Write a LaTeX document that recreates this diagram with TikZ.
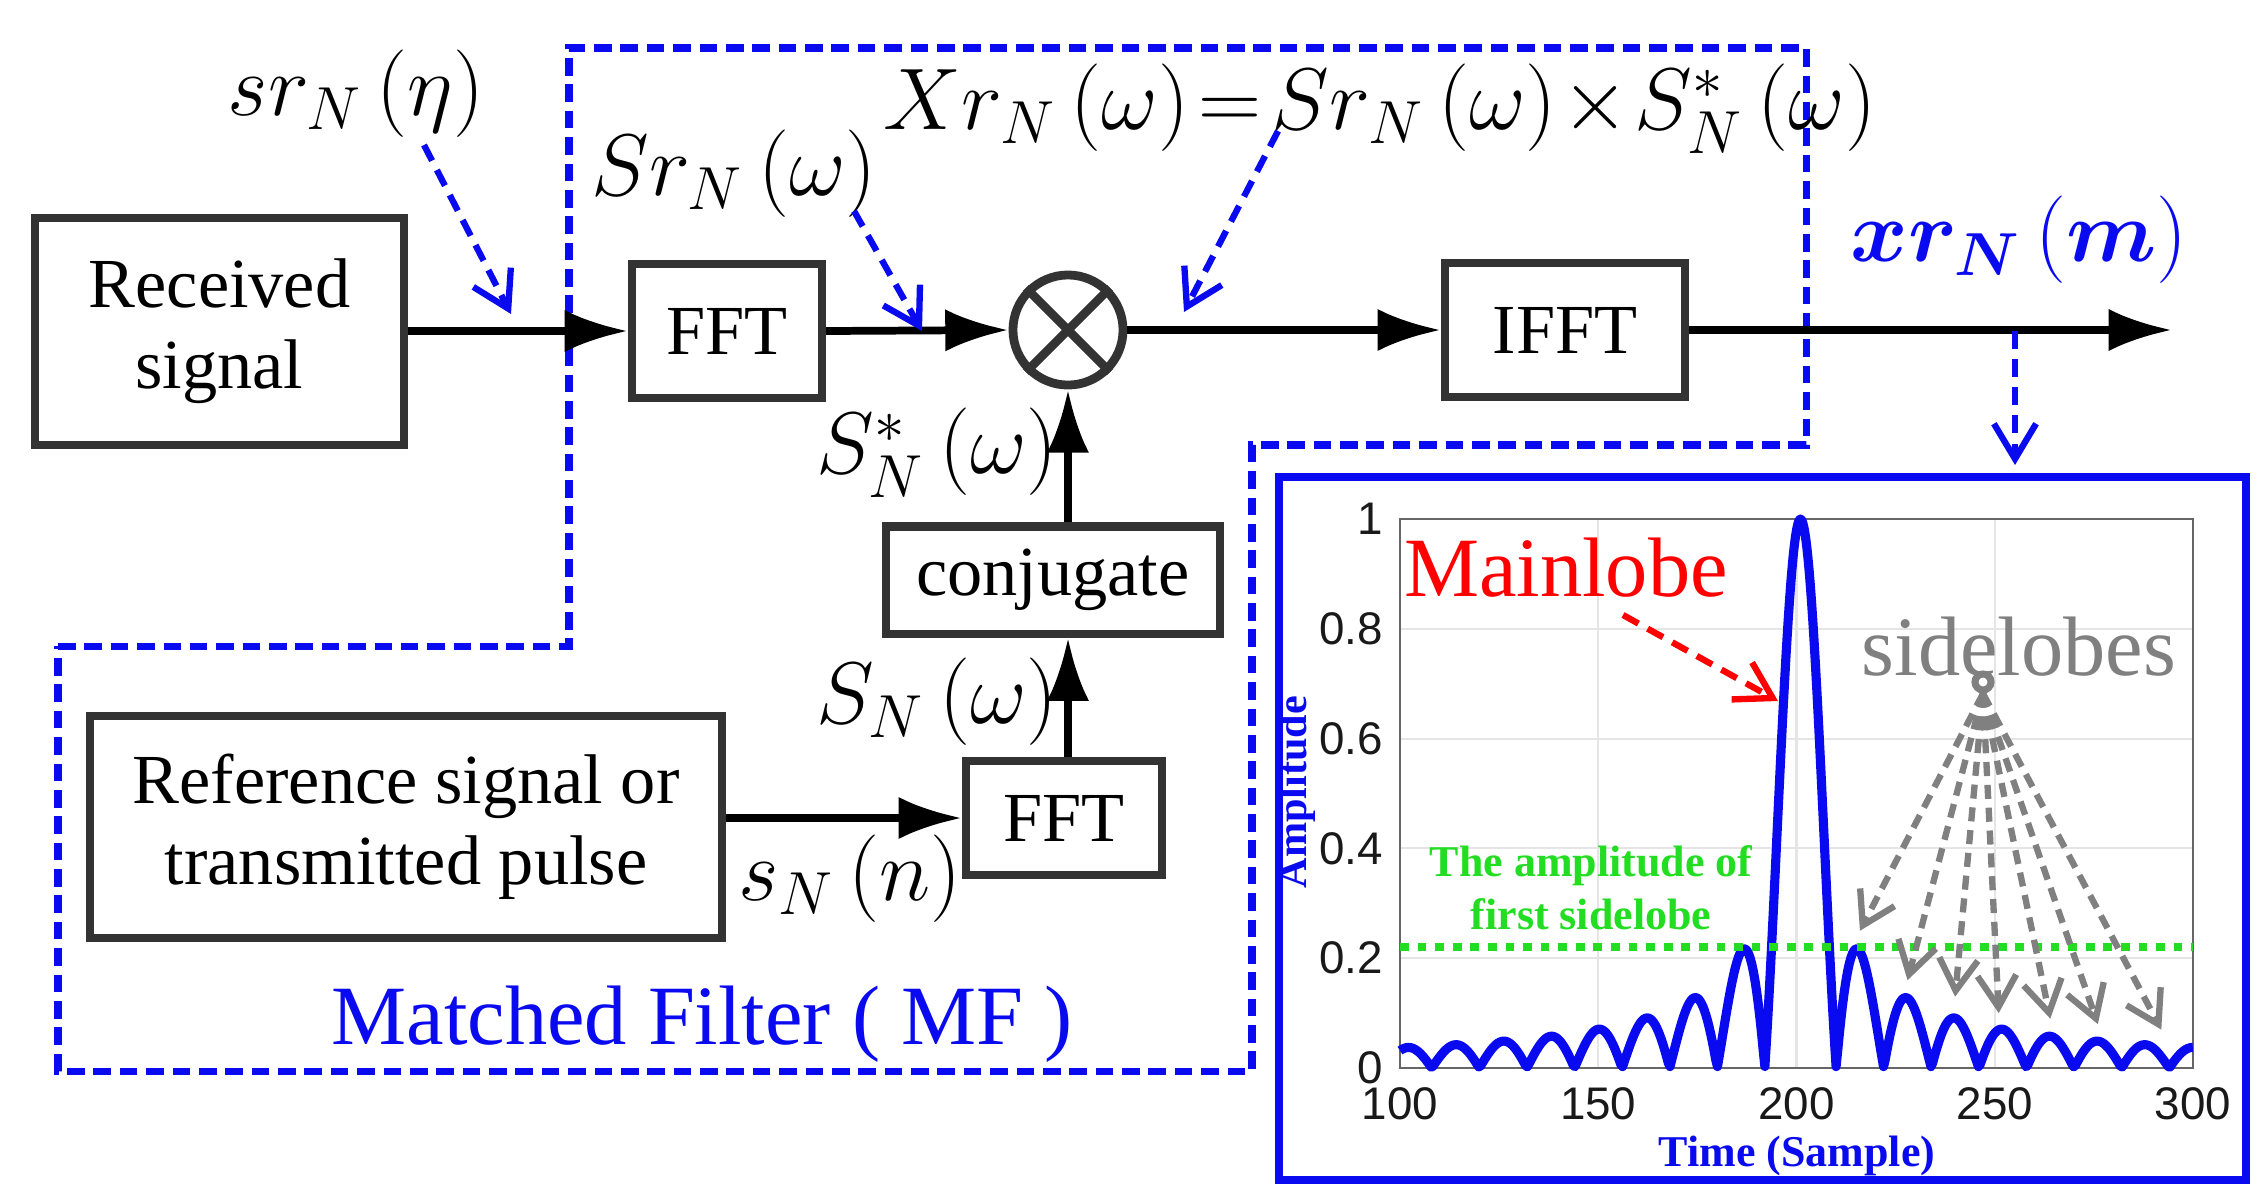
\documentclass[tikz,border=0pt]{standalone}
\usepackage{amsmath,bm}
\usepackage{fontspec}
\setmainfont{Liberation Serif}
\newfontfamily\sansf{Liberation Sans}
\usetikzlibrary{arrows.meta}
\definecolor{bx}{HTML}{333333}
\definecolor{mfblue}{HTML}{0A0AF0}
\definecolor{grn}{HTML}{22DD22}
\begin{document}
\begin{tikzpicture}[x=0.01cm,y=-0.01cm,
  declare function={sincf(\u)=(abs(\u)<0.02) ? 1 : sin(180*\u)/(3.14159*\u);
    dd(\u)=(abs(\u)<1) ? 9*\u : ((\u>0) ? 12*\u-3 : 12*\u+3);
    px(\t)=1400+(\t-100)*3.965; py(\a)=1068-549*\a;},
  box/.style={draw=bx,line width=2.3pt,font=\fontsize{20}{23}\selectfont,align=center,inner sep=0pt},
  sig/.style={line width=2.2pt,-{Latex[length=18pt,width=12pt]}},
  bdash/.style={mfblue,line width=1.8pt,dash pattern=on 5pt off 3pt,-{Straight Barb[length=10pt,width=12pt]}},
  lab/.style={font=\fontsize{24}{28}\selectfont}]
\useasboundingbox (0,0) rectangle (2266,1193);
% MF boundary
\draw[mfblue,line width=2pt,dash pattern=on 5pt off 2.5pt] (58,646)--(569,646)--(569,48)--(1806,48)--(1806,445)--(1252,445)--(1252,1071)--(58,1071)--cycle;
% boxes
\node[box,minimum width=36.9mm,minimum height=22.7mm] (rx) at (219.5,331.5) {Received\\signal};
\node[box,minimum width=19mm,minimum height=13.4mm] (fft1) at (727,331) {FFT};
\node[draw=bx,line width=2.5pt,circle,minimum size=11mm] (mul) at (1068,330) {};
\draw[bx,line width=2.5pt] (mul.north west)--(mul.south east) (mul.north east)--(mul.south west);
\node[box,minimum width=24mm,minimum height=13.4mm] (ifft) at (1565,330) {IFFT};
\node[box,minimum width=33.4mm,minimum height=10.7mm] (conj) at (1053,580) {conjugate};
\node[box,minimum width=19.6mm,minimum height=11.4mm] (fft2) at (1064,818) {FFT};
\node[box,minimum width=63.2mm,minimum height=22.1mm] (ref) at (406,827) {Reference signal or\\transmitted pulse};
\coordinate (out) at (2172,330);
% connectors
\draw[sig] (rx.east|-fft1.west) -- (fft1.west);
\draw[sig] (fft1.east) -- (mul.west);
\draw[sig] (mul.east) -- (ifft.west|-mul.east);
\draw[line width=2.2pt,-{Latex[length=18pt,width=12pt]}] (ifft.east|-out) -- (out);
\draw[sig] (ref.east|-fft2.west) -- (fft2.west);
\draw[sig] (fft2.north-|mul.south) -- (conj.south-|mul.south);
\draw[sig] (conj.north-|mul.south) -- (mul.south);
% labels
\node[lab] (l1) at (356,94) {$sr_N\left(\eta\right)$};
\node[lab] (l2) at (734,174) {$Sr_N\left(\omega\right)$};
\node[lab] (l3) at (1380,109) {$Xr_N\left(\omega\right)\!=\!Sr_N\left(\omega\right)\!\times\! S_N^*\left(\omega\right)$};
\node[lab] (l4) at (937,453) {$S_N^*\left(\omega\right)$};
\node[lab] (l5) at (937,702) {$S_N\left(\omega\right)$};
\node[lab] (l6) at (850,879) {$s_N\left(n\right)$};
\node[lab,mfblue,font=\fontsize{27}{30}\selectfont] (l7) at (2019,240) {$\bm{xr_N\left(m\right)}$};
\node[mfblue,font=\fontsize{24}{28}\selectfont] (mf) at (702,1024) {Matched Filter ( MF )};
\coordinate (a1s) at (424,145); \coordinate (a1e) at (511,314);
\coordinate (a2s) at (854,211); \coordinate (a2e) at (922,331);
\coordinate (a3s) at (1278,131); \coordinate (a3e) at (1184,312);
\coordinate (a4s) at (2015,331); \coordinate (a4e) at (2015,465);
\draw[bdash] (a1s)--(a1e);
\draw[bdash] (a2s)--(a2e);
\draw[bdash] (a3s)--(a3e);
\draw[bdash] (a4s)--(a4e);
% plot panel
\draw[mfblue,line width=2.5pt] (1279,477) rectangle (2246,1180);
\foreach \t in {150,200,250} \draw[gray!20,line width=0.6pt] ({px(\t)},{py(1)})--({px(\t)},{py(0)});
\foreach \a in {0.2,0.4,0.6,0.8} \draw[gray!20,line width=0.6pt] ({px(100)},{py(\a)})--({px(300)},{py(\a)});
\draw[gray!80!black,line width=0.8pt] ({px(100)},{py(1)}) rectangle ({px(300)},{py(0)});
\foreach \t in {100,150,200,250,300} \node[font=\sansf\fontsize{13}{15}\selectfont,gray!20!black] at ({px(\t)},1104) {\t};
\foreach \a/\s in {0/0,0.2/0.2,0.4/0.4,0.6/0.6,0.8/0.8,1/1} \node[font=\sansf\fontsize{13}{15}\selectfont,gray!20!black,anchor=east] at (1395,{py(\a)}) {\s};
\draw[mfblue,line width=2.6pt,line join=round] plot[domain=-8.667:8.5,samples=500] ({px(201+dd(\x))},{py(abs(sincf(\x)))});
\draw[grn,line width=2.2pt,dash pattern=on 2.5pt off 2.5pt] ({px(100)},{py(0.22)})--({px(300)},{py(0.22)});
\node[grn,font=\bfseries\fontsize{12.5}{15}\selectfont,align=center] (amp) at (1591,888) {The amplitude of\\first sidelobe};
\node[mfblue,font=\bfseries\fontsize{12}{15}\selectfont,rotate=90] (yl) at (1296,792) {Amplitude};
\node[mfblue,font=\bfseries\fontsize{12.5}{15}\selectfont] (xl) at (1797,1156) {Time (Sample)};
\node[red,font=\fontsize{24}{28}\selectfont] (ml) at (1566,568) {Mainlobe};
\coordinate (mls) at (1623,615); \coordinate (mle) at (1778,701);
\draw[red,line width=1.8pt,dash pattern=on 5pt off 3pt,-{Straight Barb[length=10pt,width=12pt]}] (mls)--(mle);
\node[gray,font=\fontsize{24}{28}\selectfont] (sl) at (2019,647) {sidelobes};
\node[draw=gray,line width=2pt,circle,minimum size=1.6mm,inner sep=0pt] (c) at (1983,682) {};
\foreach \t/\a in {216/0.25,228/0.16,240/0.13,251/0.1,264/0.09,276/0.08,292/0.07}
  \draw[gray,line width=1.8pt,dash pattern=on 4pt off 2.5pt,-{Straight Barb[length=9pt,width=11pt]}] (c.south) -- ({px(\t)},{py(\a)});
\end{tikzpicture}
\end{document}
